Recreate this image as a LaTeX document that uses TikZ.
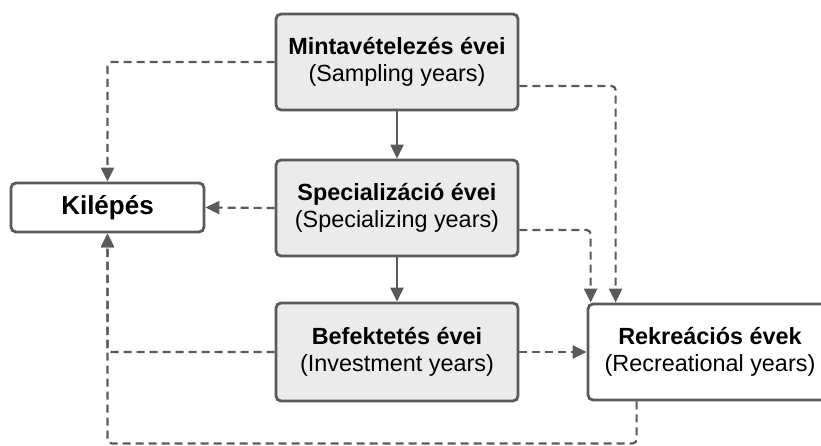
\documentclass[tikz,border=0pt]{standalone}
\usepackage{fontspec}
\setmainfont{Liberation Sans}
\usepackage{tikz}
\usetikzlibrary{positioning, shapes, arrows.meta, calc}
\definecolor{linegray}{HTML}{5A5A5A}
\definecolor{boxgray}{HTML}{EBEBEB}

\begin{document}
\begin{tikzpicture}[x=1pt, y=-1pt,
    phase/.style={draw=linegray, line width=2.8pt, rounded corners=5pt, fill=boxgray,
        align=center, font=\fontsize{23.4}{27.5}\selectfont, minimum width=242pt, minimum height=96pt, inner sep=0pt},
    outcome/.style={phase, fill=white},
    flow/.style={draw=linegray, line width=2.2pt, -{Triangle[length=14pt, width=13pt]}},
    exitflow/.style={flow, dash pattern=on 8pt off 5pt, rounded corners=4pt}]
    \useasboundingbox (0,0) rectangle (821,446);

    % Nodes
    \node[phase] (minta) at (397,62) {\textbf{Mintavételezés évei}\\(Sampling years)};
    \node[phase] (spec) at (397,208) {\textbf{Specializáció évei}\\(Specializing years)};
    \node[phase, minimum height=98pt] (befek) at (397,352) {\textbf{Befektetés évei}\\(Investment years)};
    \node[outcome, minimum width=193pt, minimum height=49pt, font=\fontsize{26}{30}\selectfont] (kilep) at (107.5,207.5) {\textbf{Kilépés}};
    \node[outcome, minimum width=244pt] (rekr) at (710,352) {\textbf{Rekreációs évek}\\(Recreational years)};

    % Arrows
    \draw[flow] (minta) -- (spec);
    \draw[flow] (spec) -- (befek);
    \draw[exitflow] (minta.west) -| (kilep.north);
    \draw[exitflow] (spec.west) -- (kilep.east);
    \draw[exitflow] ([yshift=-24pt]minta.east) -| ($(rekr.north west)+(29,0)$);
    \draw[exitflow] ([yshift=-22pt]spec.east) -| ($(rekr.north west)+(4,0)$);
    \draw[exitflow] (befek.east) -- (rekr.west);
    \draw[exitflow] (befek.west) -| (kilep.south);
    \draw[exitflow] ($(rekr.south west)+(50,0)$) -- ++(0,42) -| (kilep.south);
\end{tikzpicture}
\end{document}
